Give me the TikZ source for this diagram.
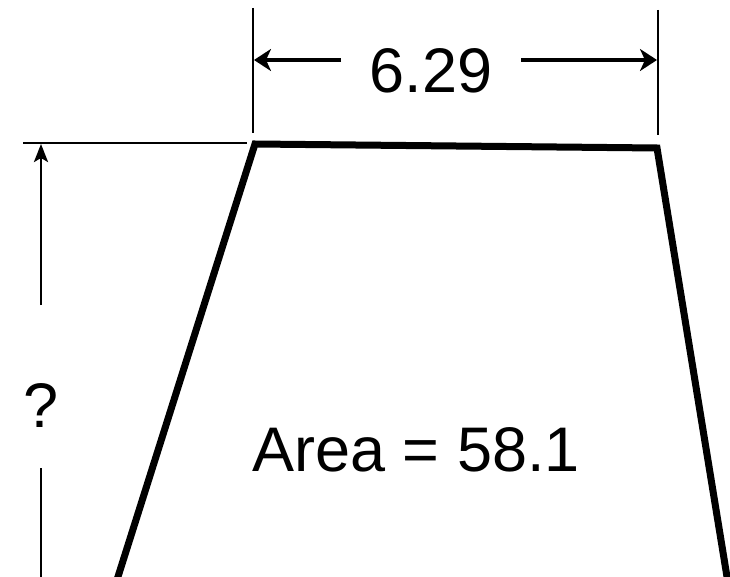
\documentclass[tikz,border=0pt]{standalone}
\usepackage{fontspec}
\setmainfont{Liberation Sans}
\usetikzlibrary{arrows.meta}
\begin{document}
\begin{tikzpicture}[x=1pt,y=-1pt,
  thinline/.style={line width=2.6pt},
  dimarrow/.style={line width=3.6pt,-{Stealth[length=17pt,width=22pt,inset=5pt]}},
  vdimarrow/.style={line width=2.8pt,-{Stealth[length=18pt,width=14pt,inset=4pt]}},
  outline/.style={line width=7pt,line join=miter},
  lbl/.style={font=\fontsize{63}{70}\selectfont,inner sep=0pt,anchor=base}]
\useasboundingbox (0,0) rectangle (730,577);
\clip (0,0) rectangle (730,577);
% trapezoid corners
\coordinate (bl) at (116,583);
\coordinate (tl) at (255,144);
\coordinate (tr) at (657,148);
\coordinate (br) at (728,583);
\draw[outline] (bl) -- (tl) -- (tr) -- (br);
% top dimension
\coordinate (e1a) at (253,8);
\coordinate (e1b) at (253,133);
\coordinate (e2a) at (658,10);
\coordinate (e2b) at (658,135);
\draw[thinline] (e1a) -- (e1b);
\draw[thinline] (e2a) -- (e2b);
\node[lbl] (w) at (431,93) {6.29};
\coordinate (wl) at (341,60);
\coordinate (wr) at (521,60);
\coordinate (wlt) at (254,60);
\coordinate (wrt) at (657,60);
\draw[dimarrow] (wl) -- (wlt);
\draw[dimarrow] (wr) -- (wrt);
% left dimension
\coordinate (h1) at (23,143);
\coordinate (h2) at (247,143);
\draw[thinline] (h1) -- (h2);
\node[lbl] (q) at (41,427) {?};
\coordinate (va) at (41,305);
\coordinate (vt) at (41,144);
\coordinate (vb) at (41,468);
\coordinate (vbe) at (41,577);
\draw[vdimarrow] (va) -- (vt);
\draw[thinline] (vb) -- (vbe);
% area label
\node[lbl] (area) at (416,471) {Area = 58.1};
\end{tikzpicture}
\end{document}
